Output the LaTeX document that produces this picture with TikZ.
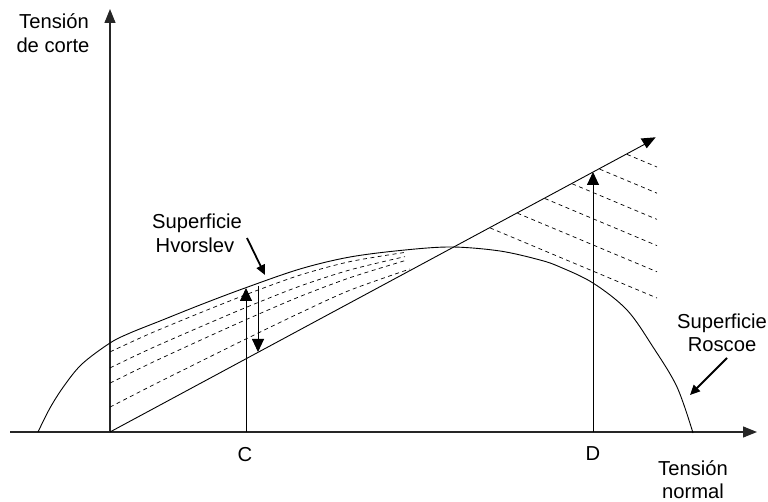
\documentclass[tikz,border=0pt]{standalone}
\usepackage{fontspec}
\setmainfont{Liberation Sans}
\usetikzlibrary{arrows.meta}
\begin{document}
\begin{tikzpicture}[x=1pt,y=-1pt,
  axisline/.style={line width=1.2pt, draw=black!85},
  solidline/.style={line width=0.9pt},
  hatch/.style={line width=0.7pt, dash pattern=on 4pt off 3.5pt},
  bigtip/.style={-{Triangle[length=14pt,width=11pt]}},
  midtip/.style={-{Triangle[length=13pt,width=12pt]}},
  labelarrow/.style={line width=1.8pt, -{Triangle[length=10pt,width=9pt]}},
  lbl/.style={font=\fontsize{20.2}{24}\selectfont, inner sep=0pt, anchor=base},
  ]
\useasboundingbox (0,0) rectangle (768,502);

% axes
\coordinate (O) at (110,432);
\coordinate (xl) at (10,432);
\coordinate (xr) at (757,432);
\coordinate (yt) at (110,9);
\draw[axisline, bigtip] (xl) -- (xr);
\draw[axisline, bigtip] (O) -- (yt);

% critical state line
\coordinate (Lend) at (647,143);
\draw[solidline] (O) -- (Lend);
\fill (640.7,138.5) -- (655.7,137.3) -- (646.7,148.3) -- cycle;

% Hvorslev + Roscoe surface
\draw[solidline] plot[smooth, tension=0.55] coordinates {(38,432) (50,408) (64,386) (82,364) (110,343) (130,333) (160,321) (200,305) (245,288) (300,269) (350,257) (405,250) (452,247) (500,251) (540,260) (560,267) (593,283) (627,310) (653,347) (677,387) (693,433)};

% left hatching
\draw[hatch] plot[smooth] coordinates {(110,351.9) (150,333.6) (200,312.9) (250,293.1) (300,275.1) (350,261.6) (405,252.4)};
\draw[hatch] plot[smooth] coordinates {(110,367.9) (150,348.9) (200,327.0) (250,305.8) (300,286.1) (350,269.9) (405,256.6)};
\draw[hatch] plot[smooth] coordinates {(110,383.1) (150,363.5) (200,340.4) (250,317.9) (300,296.5) (350,277.7) (405,260.6)};
\draw[hatch] plot[smooth] coordinates {(110,407.1) (150,386.6) (200,361.7) (250,337.0) (300,312.9) (350,290.2) (410,269.0)};

% right hatching
\draw[hatch] (490,227.9) -- (657,298.0);
\draw[hatch] (517.4,213.2) -- (657,271.8);
\draw[hatch] (544.8,198.5) -- (657,245.6);
\draw[hatch] (572.2,183.8) -- (657,219.4);
\draw[hatch] (599.6,169.1) -- (657,193.2);
\draw[hatch] (627,154.4) -- (657,167.0);

% vertical arrows
\coordinate (Cb) at (246,432);
\coordinate (Ct) at (246,288);
\draw[solidline, midtip] (Cb) -- (Ct);
\coordinate (Vt) at (258,286);
\coordinate (Vb) at (258,352);
\draw[solidline, midtip] (Vt) -- (Vb);
\coordinate (Db) at (593,432);
\coordinate (Dt) at (593,172);
\draw[solidline, midtip] (Db) -- (Dt);

% labels
\node[lbl] (ty1) at (54,29) {Tensión};
\node[lbl] (ty2) at (53,53) {de corte};
\node[lbl] (tx1) at (693,475) {Tensión};
\node[lbl] (tx2) at (693,498) {normal};
\node[lbl] (h1) at (197,229) {Superficie};
\node[lbl] (h2) at (195,253) {Hvorslev};
\node[lbl] (r1) at (722,329) {Superficie};
\node[lbl] (r2) at (722,352) {Roscoe};
\node[lbl] (C) at (245,461) {C};
\node[lbl] (D) at (593,460) {D};

% label arrows
\coordinate (ha) at (247,238);
\coordinate (hb) at (265,275);
\draw[labelarrow] (ha) -- (hb);
\coordinate (ra) at (727,358);
\coordinate (rb) at (690,395);
\draw[labelarrow] (ra) -- (rb);
\end{tikzpicture}
\end{document}
